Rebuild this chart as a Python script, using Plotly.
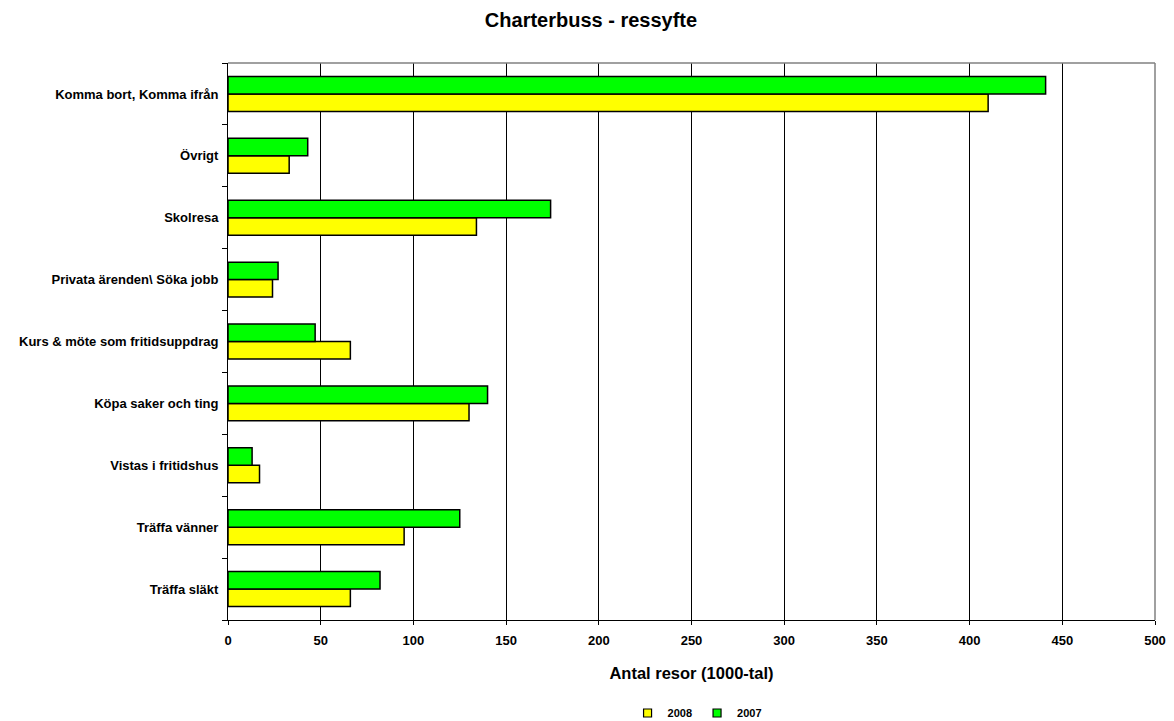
import plotly.graph_objects as go

categories = [
    "Träffa släkt",
    "Träffa vänner",
    "Vistas i fritidshus",
    "Köpa saker och ting",
    "Kurs & möte som fritidsuppdrag",
    "Privata ärenden\\ Söka jobb",
    "Skolresa",
    "Övrigt",
    "Komma bort, Komma ifrån",
]
values_2008 = [66, 95, 17, 130, 66, 24, 134, 33, 410]
values_2007 = [82, 125, 13, 140, 47, 27, 174, 43, 441]
x_ticks = [0, 50, 100, 150, 200, 250, 300, 350, 400, 450, 500]
series_names = ["2008", "2007"]
series_colors = ["#FFFF00", "#00FF00"]

font_family = "Liberation Sans, Arial, sans-serif"

fig = go.Figure()
for name, vals, col in zip(series_names, [values_2008, values_2007], series_colors):
    fig.add_trace(go.Bar(
        y=categories, x=vals, name=name, orientation="h", showlegend=False,
        marker=dict(color=col, line=dict(color="#000000", width=1.5)),
    ))
# legend entries with small square swatches
for name, col in zip(series_names, series_colors):
    fig.add_trace(go.Scatter(
        x=[None], y=[None], mode="markers", name=f"<b>{name}</b>",
        marker=dict(symbol="square", size=8, color=col,
                    line=dict(color="#000000", width=1.2)),
    ))

fig.update_layout(
    width=1166, height=713,
    paper_bgcolor="white", plot_bgcolor="white",
    margin=dict(l=220, r=19, t=55, b=101, autoexpand=False),
    barmode="group", bargap=0.435, bargroupgap=0,
    font=dict(family=font_family, color="#000000", size=13),
    title=dict(text="<b>Charterbuss - ressyfte</b>", x=0.5, xanchor="center",
               y=0.983, yanchor="middle", font=dict(size=20)),
    legend=dict(orientation="h", x=0.506, xanchor="center", y=-0.167, yanchor="middle",
                font=dict(size=11), itemwidth=30, traceorder="normal",
                tracegroupgap=0),
    xaxis=dict(
        range=[0, 500], tickvals=x_ticks, ticktext=[f"<b>{v}</b>" for v in x_ticks],
        showgrid=True, gridcolor="#000000", gridwidth=1,
        showline=True, linecolor="#000000", linewidth=1,
        ticks="outside", ticklen=4, tickcolor="#000000",
        tickfont=dict(size=13), zeroline=False, automargin=False,
        ticklabelstandoff=4,
        title=dict(text="<b>Antal resor (1000-tal)</b>", font=dict(size=16.5), standoff=20),
    ),
    yaxis=dict(
        categoryorder="array", categoryarray=categories,
        tickvals=categories, ticktext=[f"<b>{c}</b>" for c in categories],
        tickson="boundaries", ticks="outside", ticklen=5, tickcolor="#000000",
        showline=True, linecolor="#000000", linewidth=1, automargin=False,
        showgrid=False, tickfont=dict(size=13), ticklabelstandoff=6,
    ),
    shapes=[
        dict(type="line", xref="paper", yref="paper", x0=0, x1=1, y0=1, y1=1,
             line=dict(color="#808080", width=1.5), layer="above"),
        dict(type="line", xref="paper", yref="paper", x0=1, x1=1, y0=0, y1=1,
             line=dict(color="#808080", width=1.5), layer="above"),
    ],
)

fig.write_html("out.html")
